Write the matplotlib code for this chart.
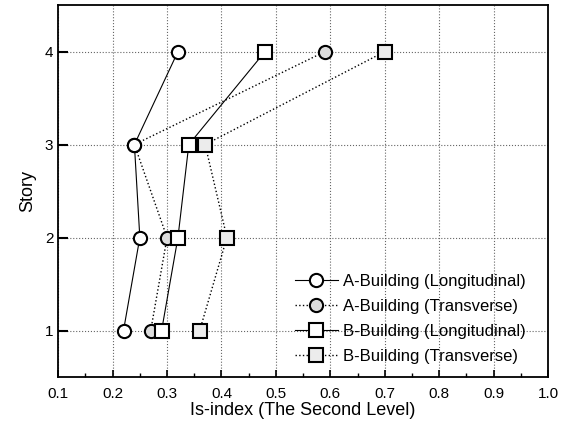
import matplotlib.pyplot as plt
from matplotlib.ticker import MultipleLocator

plt.rcParams['font.family'] = ['Liberation Sans', 'DejaVu Sans']

# Story levels and Is-index values
stories = [1, 2, 3, 4]
a_long = [0.22, 0.25, 0.24, 0.32]
a_trans = [0.27, 0.30, 0.24, 0.59]
b_long = [0.29, 0.32, 0.34, 0.48]
b_trans = [0.36, 0.41, 0.37, 0.70]

fig = plt.figure(figsize=(5.65, 4.26), dpi=100)
ax = fig.add_axes([0.103, 0.115, 0.867, 0.873])

ax.plot(a_trans, stories, ':', color='black', lw=1.0, marker='o', ms=9.5,
        mfc='#dcdcdc', mec='black', mew=1.5, zorder=3,
        label='A-Building (Transverse)')
ax.plot(a_long, stories, '-', color='black', lw=0.8, marker='o', ms=9.5,
        mfc='white', mec='black', mew=1.5, zorder=4,
        label='A-Building (Longitudinal)')
ax.plot(b_long, stories, '-', color='black', lw=0.8, marker='s', ms=9.5,
        mfc='white', mec='black', mew=1.5, zorder=5,
        label='B-Building (Longitudinal)')
ax.plot(b_trans, stories, ':', color='black', lw=1.0, marker='s', ms=9.5,
        mfc='#ececec', mec='black', mew=1.5, zorder=6,
        label='B-Building (Transverse)')

ax.set_xlim(0.1, 1.0)
ax.set_ylim(0.5, 4.5)
ax.xaxis.set_major_locator(MultipleLocator(0.1))
ax.xaxis.set_minor_locator(MultipleLocator(0.05))
ax.set_yticks(stories)
ax.tick_params(direction='in', length=5, width=1.2, labelsize=11)
ax.tick_params(axis='x', pad=7)
ax.tick_params(which='minor', direction='in', length=3, width=1)
ax.tick_params(axis='y', length=7, width=1.5)
for s in ax.spines.values():
    s.set_linewidth(1.3)

ax.grid(True, linestyle=':', color='#666666', lw=0.8)
ax.set_axisbelow(True)

ax.set_xlabel('Is-index (The Second Level)', fontsize=13, labelpad=1)
ax.set_ylabel('Story', fontsize=13, labelpad=6)

handles, labels = ax.get_legend_handles_labels()
order = [1, 0, 2, 3]
ax.legend([handles[i] for i in order], [labels[i] for i in order],
          loc='lower right', bbox_to_anchor=(0.985, -0.005), frameon=False,
          fontsize=12, handlelength=2.6, labelspacing=0.6, handletextpad=0.3)

fig.savefig('out.png', dpi=100)
